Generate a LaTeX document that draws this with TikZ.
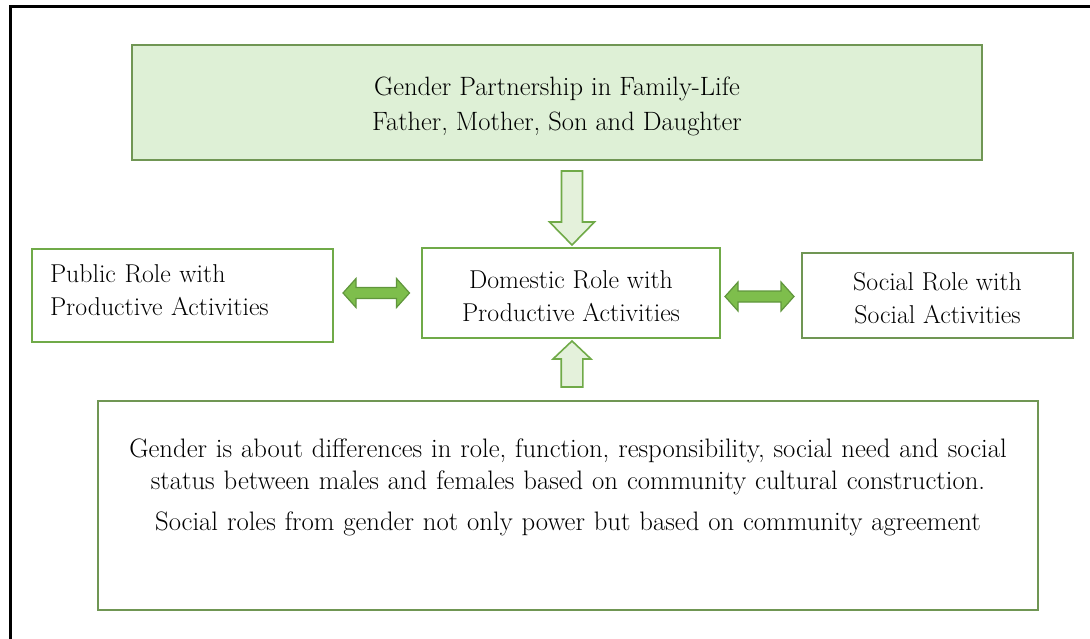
\documentclass[tikz,border=0pt]{standalone}
\usepackage{fontspec}
\setmainfont{Latin Modern Roman}
\usetikzlibrary{calc}
\definecolor{topfill}{RGB}{222,240,214}
\definecolor{topline}{RGB}{112,150,84}
\definecolor{boxline}{RGB}{112,170,72}
\definecolor{dblfill}{RGB}{126,190,76}
\definecolor{dblline}{RGB}{96,150,60}
\definecolor{vfill}{RGB}{228,241,219}
\begin{document}
\begin{tikzpicture}[x=1pt,y=-1pt,
  box/.style={draw=boxline,line width=2pt,fill=white,inner sep=0pt,font=\fontsize{25.8}{33}\selectfont},
  dbl/.style={draw=dblline,line width=1.2pt,fill=dblfill,line join=miter},
  varrow/.style={draw=boxline,line width=1.6pt,fill=vfill,line join=miter}]
\useasboundingbox (0,0) rectangle (1090,639);
\draw[line width=3pt,black] (10,639) -- (10,7) -- (1090,7);

\node[box,draw=topline,fill=topfill,minimum width=850pt,minimum height=115pt,align=center,
  font=\fontsize{26.5}{35}\selectfont] (top) at (557,102.5)
  {\rule{0pt}{27pt}Gender Partnership in Family-Life\\Father, Mother, Son and Daughter};

\node[box,minimum width=301pt,minimum height=93pt,text width=265pt,align=left] (left) at (182.5,295.5)
  {Public Role with\\Productive Activities\rule[-10pt]{0pt}{10pt}};
\node[box,minimum width=298pt,minimum height=90pt,align=center] (mid) at (571,293)
  {\rule{0pt}{25pt}Domestic Role with\\Productive Activities};
\node[box,draw=topline,minimum width=271pt,minimum height=85pt,align=center] (right) at (937.5,295.5)
  {\rule{0pt}{24pt}Social Role with\\Social Activities};

\node[box,draw=topline,minimum width=940pt,minimum height=209pt,text width=930pt,align=center,
  font=\fontsize{26.7}{32}\selectfont] (bot) at (568,505.5)
  {Gender is about differences in role, function, responsibility, social need and social\\
   status between males and females based on community cultural construction.\\[9pt]
   Social roles from gender not only power but based on community agreement\\[9pt]\mbox{}};

% down arrow
\coordinate (dtip) at ($(mid.north)+(1,-2)$);
\coordinate (dtop) at ($(dtip |- top.south)+(0,10)$);
\draw[varrow] ($(dtop)+(-10.5,0)$) -- ($(dtip)+(-10.5,-23)$) -- ($(dtip)+(-22.5,-23)$) -- (dtip)
  -- ($(dtip)+(22.5,-23)$) -- ($(dtip)+(10.5,-23)$) -- ($(dtop)+(10.5,0)$) -- cycle;

% up arrow
\coordinate (utip) at ($(mid.south)+(1,2)$);
\coordinate (ubase) at ($(utip |- bot.north)+(0,-13)$);
\draw[varrow] ($(ubase)+(-10.8,0)$) -- ($(utip)+(-10.8,18)$) -- ($(utip)+(-19,18)$) -- (utip)
  -- ($(utip)+(19,18)$) -- ($(utip)+(10.8,18)$) -- ($(ubase)+(10.8,0)$) -- cycle;

% double arrows
\newcommand\dblarrow[2]{%
 \draw[dbl] (#1) -- ($(#1)+(13,-14.5)$) -- ($(#1)+(13,-5.5)$) -- ($(#2)+(-13,-5.5)$) -- ($(#2)+(-13,-14.5)$)
   -- (#2) -- ($(#2)+(-13,14.5)$) -- ($(#2)+(-13,5.5)$) -- ($(#1)+(13,5.5)$) -- ($(#1)+(13,14.5)$) -- cycle;}
\coordinate (l1) at ($(left.east |- mid.west)+(9,0)$);
\coordinate (l2) at ($(mid.west)+(-11.5,0)$);
\dblarrow{l1}{l2}
\coordinate (r1) at ($(mid.east)+(4,3.5)$);
\coordinate (r2) at ($(r1 -| right.west)+(-7,0)$);
\dblarrow{r1}{r2}
\end{tikzpicture}
\end{document}
